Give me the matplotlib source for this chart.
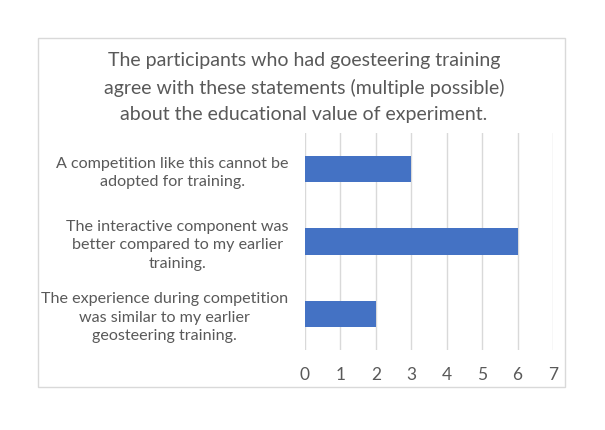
import matplotlib
matplotlib.use("Agg")
import matplotlib.pyplot as plt
from matplotlib.patches import Rectangle

categories = [
    "A competition like this cannot be\nadopted for training.",
    "The interactive component was\nbetter compared to my earlier\ntraining.",
    "The experience during competition\nwas similar to my earlier\ngeosteering training.",
]
values = [3, 6, 2]
xticks = [0, 1, 2, 3, 4, 5, 6, 7]
title = ("The participants who had goesteering training\n"
         "agree with these statements (multiple possible)\n"
         "about the educational value of experiment.")

plt.rcParams['font.family'] = ['Lato', 'DejaVu Sans']
W, H = 605, 430
fig = plt.figure(figsize=(W/100, H/100), dpi=100)
fig.patch.set_facecolor('white')

# chart border
fig.patches.append(Rectangle((38/W, 1-387/H), (565-38)/W, (387-38)/H,
                             transform=fig.transFigure, fill=False,
                             edgecolor='#d9d9d9', linewidth=1))

ax = fig.add_axes([305/W, 1-350/H, (553-305)/W, (350-133)/H])
ypos = list(range(len(categories)))
ax.barh(ypos, values, height=0.36, color='#4472C4', zorder=3)
ax.set_ylim(len(categories)-0.5, -0.5)
ax.set_xlim(0, 7)
ax.set_xticks(xticks)
ax.set_xticklabels([str(t) for t in xticks])
ax.set_yticks(ypos)
ax.set_yticklabels(categories, ha='right')
for lab in ax.get_yticklabels():
    lab.set_multialignment('center')
    lab.set_linespacing(1.4)
ax.tick_params(axis='y', length=0, pad=12, labelsize=11.6, labelcolor='#595959')
ax.tick_params(axis='x', length=0, pad=12, labelsize=12.5, labelcolor='#595959')
ax.grid(axis='x', color='#d9d9d9', linewidth=1, zorder=0)
for s in ax.spines.values():
    s.set_visible(False)

fig.text(304/W, 1-87.5/H, title, ha='center', va='center', fontsize=14,
         color='#595959', linespacing=1.68)

fig.savefig('out.png', dpi=100)
